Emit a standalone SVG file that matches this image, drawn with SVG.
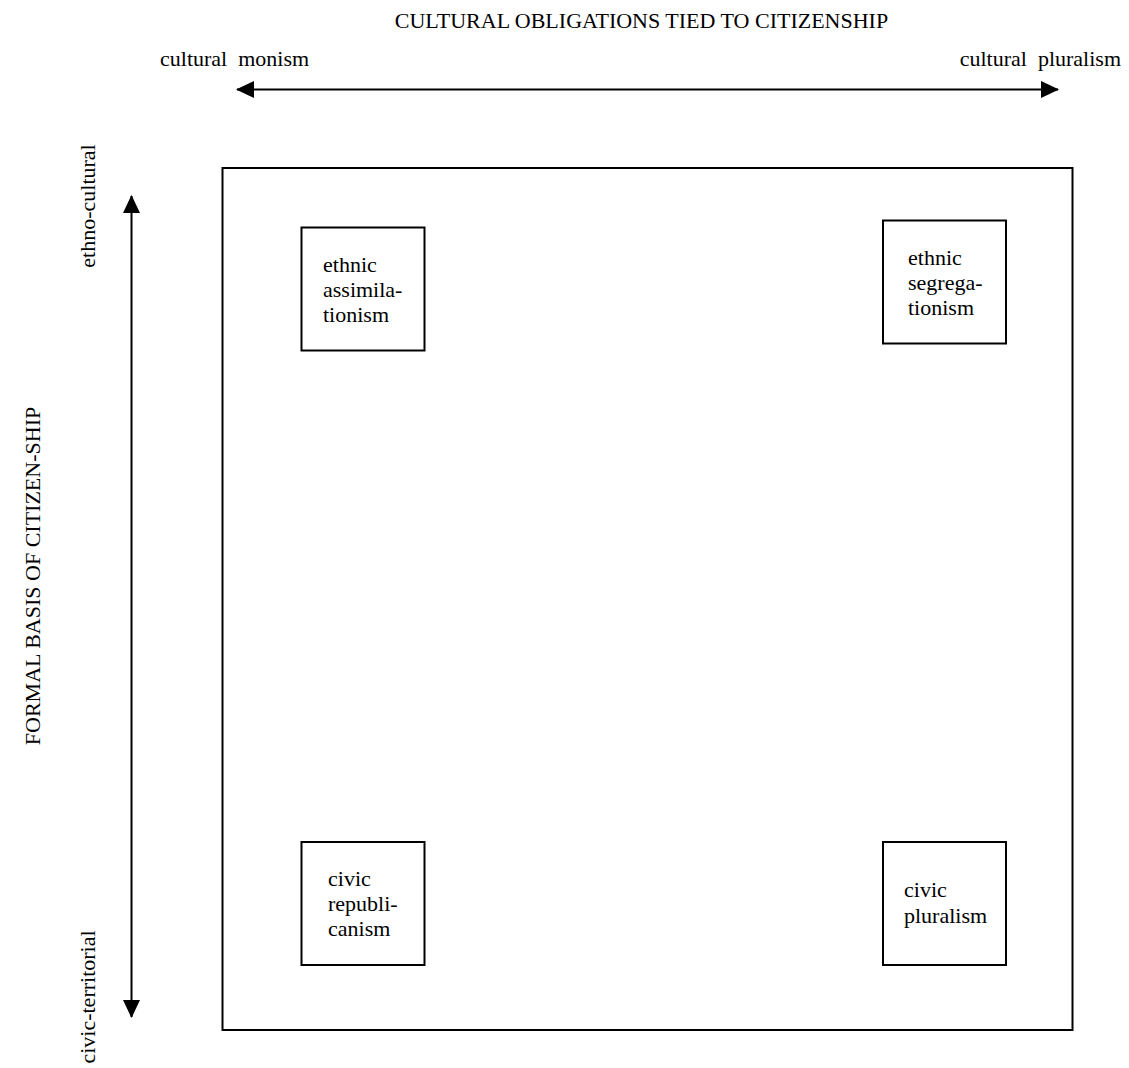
<svg xmlns="http://www.w3.org/2000/svg" width="1129" height="1068" viewBox="0 0 1129 1068">
<style>
text{font-family:'Liberation Serif','Times New Roman',Tinos,'DejaVu Serif',serif;font-size:22px;fill:#000}
.box{fill:#fff;stroke:#000;stroke-width:2}
.axis{stroke:#000;stroke-width:2;fill:none}
</style>
<defs>
<marker id="ah" viewBox="0 0 18 17" refX="17" refY="8.5" markerWidth="18" markerHeight="17" markerUnits="userSpaceOnUse" orient="auto-start-reverse">
<path d="M0,0 L18,8.5 L0,17 Z" fill="#000"/>
</marker>
</defs>
<rect width="1129" height="1068" fill="#fff"/>
<g id="labels">
<text x="641.5" y="28" text-anchor="middle">CULTURAL OBLIGATIONS TIED TO CITIZENSHIP</text>
<text x="160" y="66" xml:space="preserve">cultural  monism</text>
<text x="1121" y="66" text-anchor="end" xml:space="preserve">cultural  pluralism</text>
<text transform="translate(95,206) rotate(-90)" text-anchor="middle">ethno-cultural</text>
<text transform="translate(95,997) rotate(-90)" text-anchor="middle">civic-territorial</text>
<text transform="translate(40,576) rotate(-90)" text-anchor="middle">FORMAL BASIS OF CITIZEN-SHIP</text>
</g>
<g id="connectors">
<line class="axis" x1="237" y1="89.5" x2="1058" y2="89.5" marker-start="url(#ah)" marker-end="url(#ah)"/>
<line class="axis" x1="131.5" y1="196" x2="131.5" y2="1017" marker-start="url(#ah)" marker-end="url(#ah)"/>
</g>
<g id="frame">
<rect class="box" x="222.5" y="168" width="850" height="862" fill="none"/>
</g>
<g id="ethnic-assimilationism">
<rect class="box" x="301.5" y="227.5" width="123" height="123"/>
<text x="323" y="272">ethnic</text>
<text x="323" y="297">assimila-</text>
<text x="323" y="322">tionism</text>
</g>
<g id="ethnic-segregationism">
<rect class="box" x="883" y="220.5" width="123" height="123"/>
<text x="908" y="265">ethnic</text>
<text x="908" y="290">segrega-</text>
<text x="908" y="315">tionism</text>
</g>
<g id="civic-republicanism">
<rect class="box" x="301.5" y="842" width="123" height="123"/>
<text x="328" y="886">civic</text>
<text x="328" y="911">republi-</text>
<text x="328" y="936">canism</text>
</g>
<g id="civic-pluralism">
<rect class="box" x="883" y="842" width="123" height="123"/>
<text x="904" y="897">civic</text>
<text x="904" y="923">pluralism</text>
</g>
</svg>
